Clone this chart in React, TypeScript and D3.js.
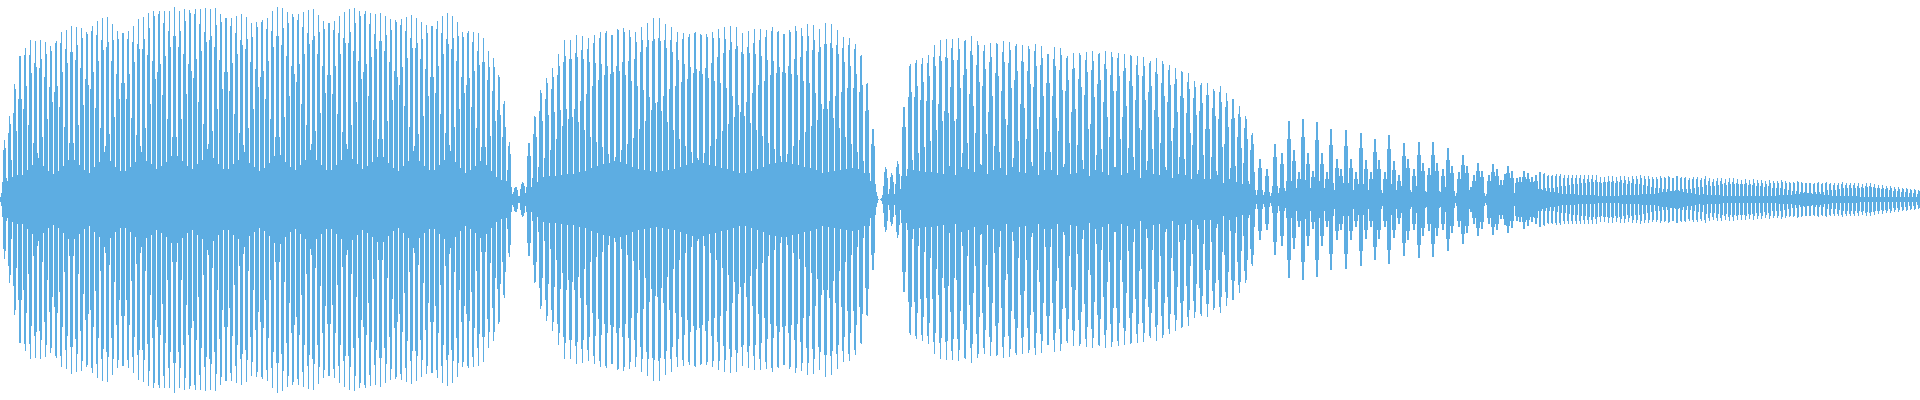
import React, { useMemo } from "react";
import * as d3 from "d3";

const WIDTH = 1920;
const HEIGHT = 400;
const WAVE_COLOR = "#5DADE2";

// Peak amplitude of each glottal pulse
const phraseOneStart = 4.55;
const phraseOnePeriod = 5.15;
const phraseOneAmps = [60,85,119,149,156,162,159,161,161,158,164,171,171,174,175,176,174,179,182,183,183,178,173,173,173,176,181,184,190,195,195,193,191,193,191,195,196,197,194,193,191,195,191,189,187,186,186,184,180,183,186,186,191,193,194,192,192,191,191,191,191,187,184,184,183,186,188,192,195,195,195,191,188,187,186,185,186,186,186,186,182,180,179,181,184,186,187,185,181,173,175,172,168,162,150,145,129,102,59];
const dipOneStart = 515.7;
const dipOnePeriod = 7;
const dipOneAmps = [13,18];
const phraseTwoStart = 529;
const phraseTwoPeriod = 5.93;
const phraseTwoAmps = [58,86,112,124,133,147,160,160,165,165,164,168,171,173,170,176,176,173,170,175,178,182,182,177,175,170,170,170,173,171,170,171,174,175,175,173,167,170,172,173,173,177,174,171,174,178,175,178,176,171,177,176,171,165,165,159,149,120,73];
const dipTwoStart = 885.7;
const dipTwoPeriod = 6;
const dipTwoAmps = [33,27,39];
const phraseThreeStart = 904;
const phraseThreePeriod = 6.07;
const phraseThreeAmps = [96,139,143,144,147,156,160,161];
const decayStart = 952.3;
const decayPeriod = 6.38;
const decayAmps = [163,163,164,164,162,157,157,161,160,160,160,155,157,158,155,150,154,154,147,147,150,150,150,151,149,150,149,146,149,145,144,142,142,142,137,132,132,128,120,119,117,113,115,107,104,94,85,68];
const trillTimes = [1260,1267,1275,1282,1289,1294,1299,1303,1308,1313,1317,1322,1327,1331,1337,1341,1346,1351,1356,1361,1366,1371,1375,1379,1385,1389,1394,1399,1404,1408,1414,1419,1423,1429,1433,1437,1443,1448,1452,1459,1463,1467,1471,1474,1478,1482,1489,1493,1497,1501,1505,1508,1512,1517,1520,1524,1528,1532,1536];
const trillAmps = [42,32,57,48,81,51,28,83,48,30,80,48,28,73,42,32,72,42,28,69,41,28,63,41,28,67,40,25,58,42,32,60,38,33,59,38,32,53,35,28,46,35,13,25,38,30,25,37,32,20,26,35,29,22,23,30,27,23,25];
const trillWidth = 6;
const tailStart = 1540;
const tailPeriod = 4.03;
const tailAmps = [29,28,26,26,26,26,25,25,25,25,25,25,25,25,25,23,23,24,24,23,24,24,23,24,24,25,24,24,23,23,24,24,25,23,25,24,24,22,23,23,22,24,22,21,22,22,21,22,22,21,20,21,20,21,20,20,19,20,19,19,20,19,18,18,19,18,18,18,17,18,17,18,17,17,17,18,17,17,17,17,16,17,17,16,15,15,14,14,13,13,12,12,11,11,10,10,9,8];

// Shape of one pulse: share of its peak at a distance given in fractions of a period
const pulseDistance = [0,0.1,0.2,0.3,0.36,0.39,0.42,0.5,0.6,0.7,1];
const pulseShare = [1,0.96,0.84,0.66,0.42,0.32,0.22,0.15,0.1,0.06,0];

type Pulse = { t: number; amp: number; width: number };

const spaced = (start: number, period: number, amps: number[]): Pulse[] =>
  amps.map((amp, i) => ({ t: start + i * period, amp, width: period }));

function buildPulses(): Pulse[] {
  return [
    ...spaced(phraseOneStart, phraseOnePeriod, phraseOneAmps),
    ...spaced(dipOneStart, dipOnePeriod, dipOneAmps),
    ...spaced(phraseTwoStart, phraseTwoPeriod, phraseTwoAmps),
    ...spaced(dipTwoStart, dipTwoPeriod, dipTwoAmps),
    ...spaced(phraseThreeStart, phraseThreePeriod, phraseThreeAmps),
    ...spaced(decayStart, decayPeriod, decayAmps),
    ...trillTimes.map((t, i) => ({ t, amp: trillAmps[i], width: trillWidth })),
    ...spaced(tailStart, tailPeriod, tailAmps),
  ];
}

export default function App() {
  const path = useMemo(() => {
    const pulses = buildPulses();
    const share = d3.scaleLinear().domain(pulseDistance).range(pulseShare).clamp(true);
    const x = d3.scaleLinear().domain([0, WIDTH]).range([0, WIDTH]);
    const y = d3.scaleLinear().domain([-200.5, 199.5]).range([HEIGHT, 0]);
    const columns = d3.range(0, WIDTH + 1).map((col) => {
      let peak = 0;
      for (const p of pulses) {
        const d = Math.abs(col + 0.5 - p.t) / p.width;
        if (d < 1) peak = Math.max(peak, p.amp * share(d));
      }
      return { col, peak };
    });
    return d3
      .area<{ col: number; peak: number }>()
      .x((d) => x(d.col))
      .y0((d) => y(-d.peak))
      .y1((d) => y(d.peak))
      .curve(d3.curveStepAfter)(columns) as string;
  }, []);

  return (
    <svg
      width={WIDTH}
      height={HEIGHT}
      viewBox={`0 0 ${WIDTH} ${HEIGHT}`}
      style={{ position: "fixed", left: 0, top: 0, display: "block", background: "#ffffff" }}
    >
      <path d={path} fill={WAVE_COLOR} shapeRendering="crispEdges" />
    </svg>
  );
}
